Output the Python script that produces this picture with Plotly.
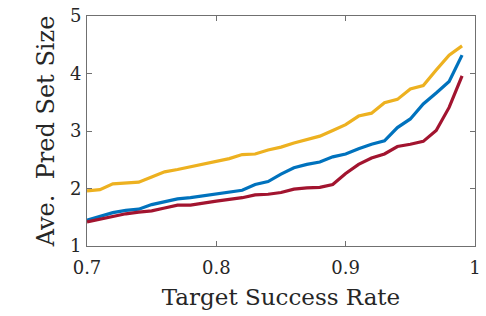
import plotly.graph_objects as go

x = [0.70, 0.71, 0.72, 0.73, 0.74, 0.75, 0.76, 0.77, 0.78, 0.79,
     0.80, 0.81, 0.82, 0.83, 0.84, 0.85, 0.86, 0.87, 0.88, 0.89,
     0.90, 0.91, 0.92, 0.93, 0.94, 0.95, 0.96, 0.97, 0.98, 0.99]

yellow = [1.96, 1.98, 2.08, 2.09, 2.11, 2.20, 2.29, 2.33, 2.38, 2.43,
          2.48, 2.52, 2.59, 2.60, 2.67, 2.72, 2.79, 2.85, 2.91, 3.01,
          3.11, 3.26, 3.31, 3.49, 3.55, 3.73, 3.79, 4.06, 4.32, 4.48]

blue = [1.45, 1.52, 1.58, 1.62, 1.64, 1.72, 1.77, 1.82, 1.84, 1.87,
        1.90, 1.93, 1.97, 2.07, 2.12, 2.25, 2.36, 2.42, 2.46, 2.55,
        2.60, 2.69, 2.77, 2.83, 3.06, 3.21, 3.47, 3.66, 3.86, 4.32]

red = [1.42, 1.47, 1.52, 1.56, 1.59, 1.61, 1.66, 1.71, 1.71, 1.75,
       1.78, 1.81, 1.84, 1.89, 1.90, 1.93, 1.99, 2.01, 2.02, 2.07,
       2.26, 2.42, 2.53, 2.60, 2.73, 2.77, 2.82, 3.01, 3.41, 3.96]

x_ticks = [0.7, 0.8, 0.9, 1.0]
x_tick_labels = ["0.7", "0.8", "0.9", "1"]
y_ticks = [1, 2, 3, 4, 5]

series = [(yellow, "#EDB120"), (blue, "#0072BD"), (red, "#A2142F")]

fig = go.Figure()
for ys, col in series:
    fig.add_trace(go.Scatter(x=x, y=ys, mode="lines",
                             line=dict(color=col, width=3.2),
                             showlegend=False))

font_family = "DejaVu Serif, Liberation Serif, serif"
axis_common = dict(showgrid=False, zeroline=False, showline=True,
                   linecolor="#707070", linewidth=1, mirror="ticks",
                   ticks="inside", ticklen=5, tickcolor="#707070",
                   ticklabeloverflow="allow",
                   tickfont=dict(family=font_family, size=18, color="#262626"))

fig.update_layout(
    width=486, height=316,
    margin=dict(l=87, r=5, t=15, b=70),
    plot_bgcolor="white", paper_bgcolor="white",
    font=dict(family=font_family, color="#262626"),
    xaxis=dict(range=[0.7, 1.0], tickvals=x_ticks, ticktext=x_tick_labels,
               ticklabelstandoff=5,
               title=dict(text="Target Success Rate",
                          font=dict(family=font_family, size=23, color="#262626"),
                          standoff=12),
               **axis_common),
    yaxis=dict(range=[1, 5], tickvals=y_ticks,
               ticklabelstandoff=1,
               title=dict(text="Ave.  Pred Set Size",
                          font=dict(family=font_family, size=24, color="#262626"),
                          standoff=8),
               **axis_common),
)

fig.write_html("out.html", config={"displayModeBar": False},
               post_script="document.body.style.margin='0';document.body.style.overflow='hidden';")
